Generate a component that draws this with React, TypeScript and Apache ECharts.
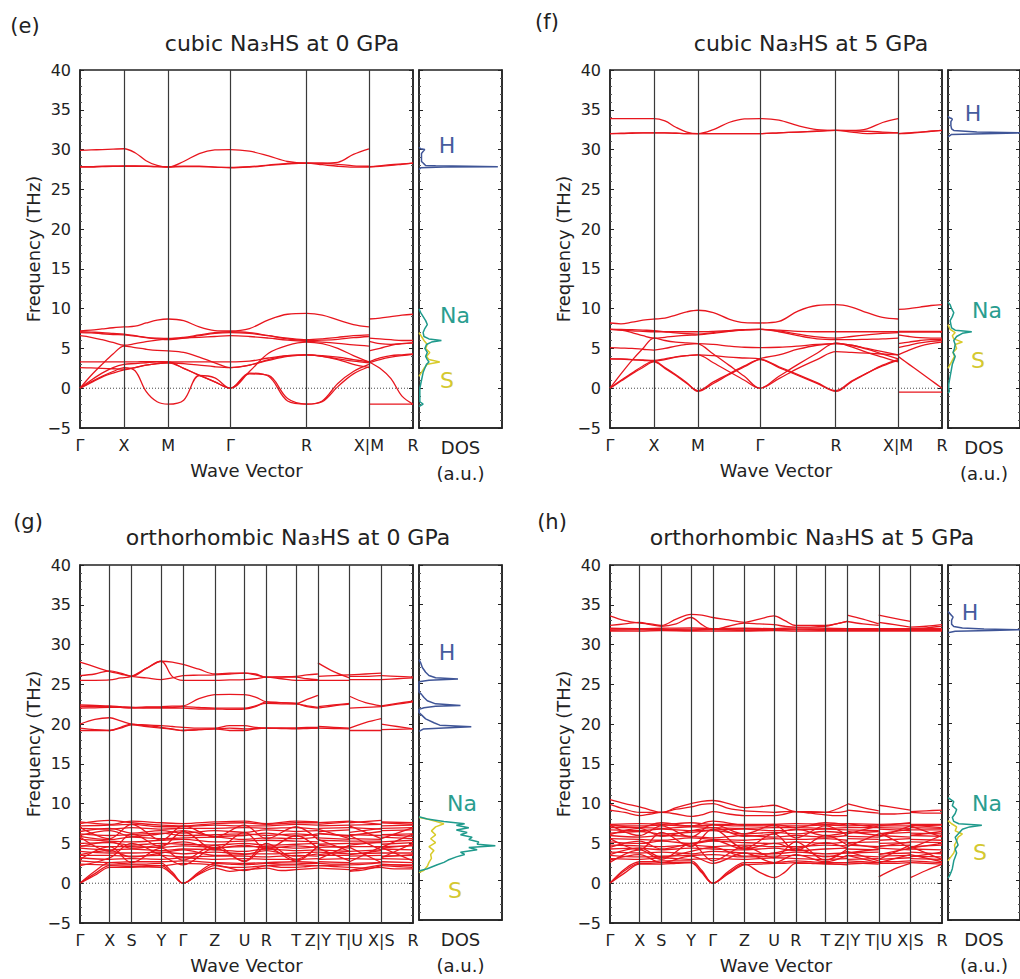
import React, { useEffect, useRef } from "react";
import * as echarts from "echarts";

// ---------------- k-paths ----------------
const cubicLabels = ["Γ", "X", "M", "Γ", "R", "X|M", "R"];
const cubicK = [0, 0.5, 1.0, 1.707, 2.573, 3.28, 3.78];
const cubicSections = [[0, 5], [5, 6]];
const orthoLabels = ["Γ", "X", "S", "Y", "Γ", "Z", "U", "R", "T", "Z|Y", "T|U", "X|S", "R"];
const orthoK = [0, 0.6, 1.04, 1.64, 2.08, 2.72, 3.32, 3.76, 4.36, 4.8, 5.44, 6.08, 6.72];
const orthoSections = [[0, 9], [9, 10], [10, 11], [11, 12]];

// ---------------- (e) cubic 0 GPa ----------------
const eA = [
  [29.9, 29.95, 30.0, 30.05, 30.1, 29.6, 28.6, 28.0, 27.8, 28.5, 29.5, 29.95, 30.0, 29.8, 29.2, 28.5, 28.3, 28.3, 28.4, 29.4, 30.1],
  [27.8, 27.8, 27.85, 27.9, 27.9, 27.9, 27.9, 27.85, 27.8, 27.85, 27.85, 27.8, 27.7, 27.8, 28.0, 28.2, 28.3, 28.1, 27.9, 27.8, 27.8],
  [27.85, 27.85, 27.9, 27.9, 27.95, 27.95, 27.9, 27.85, 27.85, 27.9, 27.9, 27.8, 27.75, 27.85, 28.05, 28.25, 28.3, 28.3, 28.15, 27.95, 27.9],
  [7.2, 7.3, 7.45, 7.6, 7.7, 7.8, 8.2, 8.55, 8.7, 8.5, 7.7, 7.25, 7.2, 7.5, 8.6, 9.3, 9.4, 9.2, 8.6, 8.0, 7.7],
  [7.0, 6.95, 6.85, 6.75, 6.7, 6.55, 6.35, 6.2, 6.1, 6.3, 6.6, 6.9, 7.0, 6.9, 6.6, 6.3, 6.1, 6.2, 6.4, 6.6, 6.7],
  [6.6, 6.4, 6.1, 5.75, 5.4, 5.6, 5.85, 6.05, 6.2, 6.3, 6.4, 6.5, 6.6, 6.5, 6.3, 6.05, 5.9, 5.8, 5.65, 5.45, 5.3],
  [0, 1.6, 3.0, 4.3, 5.3, 5.1, 4.9, 4.75, 4.7, 4.5, 3.9, 3.2, 2.6, 2.9, 3.6, 4.1, 4.2, 4.0, 3.7, 3.4, 3.2],
  [0, 1.0, 1.9, 2.6, 3.0, 3.1, 3.2, 3.3, 3.3, 2.5, 1.65, 0.8, 0, 2.1, 4.4, 5.4, 5.8, 5.6, 5.0, 4.1, 3.3],
  [3.3, 3.3, 3.3, 3.3, 3.3, 3.3, 3.35, 3.35, 3.3, 3.3, 3.3, 3.3, 3.3, 3.4, 3.8, 4.1, 4.2, 4.1, 3.9, 3.6, 3.3],
  [2.6, 2.55, 2.5, 2.45, 2.4, 2.6, 2.9, 3.1, 3.2, 3.1, 2.9, 2.7, 2.6, 2.9, 3.5, 4.0, 4.2, 4.0, 3.6, 3.0, 2.6],
  [0, 0.8, 1.5, 2.1, 2.6, 2.2, -0.4, -1.7, -2.0, -1.5, 1.6, 1.3, 0, 1.9, 1.5, -1.6, -2.0, -1.6, 0.6, 2.1, 3.0],
  [0, 0.7, 1.4, 1.9, 2.3, 2.6, 2.9, 3.1, 3.2, 2.5, 1.6, 0.8, 0, 1.8, 1.6, -1.3, -2.0, -1.7, 0.2, 1.8, 2.7],
  [7.1, 7.05, 7.0, 6.9, 6.8, 6.6, 6.4, 6.3, 6.25, 6.4, 6.7, 7.0, 7.1, 7.0, 6.6, 6.2, 6.0, 6.05, 6.15, 6.35, 6.5],
];
const eB = [
  [27.8, 27.95, 28.1, 28.2, 28.3],
  [27.85, 27.9, 28.0, 28.15, 28.3],
  [8.7, 8.8, 9.0, 9.2, 9.3],
  [6.3, 6.2, 6.1, 6.0, 6.0],
  [5.9, 5.6, 5.5, 5.6, 5.7],
  [4.7, 5.0, 5.4, 5.6, 5.7],
  [3.3, 3.8, 4.1, 4.2, 4.3],
  [3.2, 3.6, 3.9, 4.1, 4.25],
  [3.3, 2.5, 1.2, -1.0, -2.0],
  [-2.0, -2.0, -2.0, -2.0, -2.0],
];

// ---------------- (f) cubic 5 GPa ----------------
const fA = [
  [33.9, 33.9, 33.9, 33.9, 33.9, 33.6, 32.8, 32.2, 32.0, 32.5, 33.4, 33.85, 33.9, 33.7, 33.0, 32.5, 32.4, 32.4, 32.6, 33.4, 33.9],
  [32.0, 32.05, 32.1, 32.1, 32.1, 32.1, 32.05, 32.0, 32.0, 32.0, 32.0, 32.0, 32.0, 32.1, 32.2, 32.3, 32.4, 32.2, 32.0, 32.05, 32.1],
  [32.0, 32.0, 32.05, 32.1, 32.1, 32.1, 32.05, 32.0, 32.0, 32.0, 32.0, 32.0, 32.0, 32.1, 32.2, 32.3, 32.4, 32.35, 32.3, 32.2, 32.1],
  [8.2, 8.1, 8.3, 8.55, 8.7, 8.8, 9.2, 9.6, 9.8, 9.5, 8.7, 8.25, 8.2, 8.4, 9.7, 10.4, 10.5, 10.2, 9.5, 8.9, 8.7],
  [7.4, 7.3, 7.2, 7.15, 7.1, 7.1, 7.1, 7.1, 7.1, 7.15, 7.25, 7.35, 7.4, 7.3, 7.15, 7.1, 7.1, 7.1, 7.1, 7.1, 7.1],
  [7.4, 7.3, 7.0, 6.6, 6.3, 6.4, 6.55, 6.65, 6.7, 6.9, 7.15, 7.35, 7.4, 7.2, 6.8, 6.45, 6.3, 6.5, 6.7, 6.9, 7.0],
  [7.4, 7.38, 7.35, 7.3, 7.25, 7.1, 6.95, 6.85, 6.8, 7.0, 7.2, 7.35, 7.4, 7.1, 6.6, 6.2, 6.1, 6.1, 6.15, 6.2, 6.3],
  [5.1, 5.05, 5.0, 4.9, 4.8, 5.0, 5.3, 5.5, 5.6, 5.5, 5.3, 5.15, 5.1, 5.15, 5.3, 5.5, 5.6, 5.4, 5.0, 4.6, 4.2],
  [0, 1.8, 3.5, 5.0, 6.3, 6.0, 5.8, 5.7, 5.6, 4.3, 2.9, 1.5, 0, 1.5, 3.0, 4.4, 5.7, 5.2, 4.5, 3.9, 3.3],
  [0, 1.0, 1.9, 2.8, 3.4, 2.6, 1.7, 0.7, -0.4, 0.6, 1.7, 2.7, 3.7, 4.2, 4.9, 5.4, 5.6, 5.4, 4.9, 4.3, 3.7],
  [0, 0.9, 1.8, 2.6, 3.3, 2.5, 1.6, 0.6, -0.3, 0.8, 1.8, 2.8, 3.6, 2.6, 1.6, 0.6, -0.4, 0.8, 1.9, 2.8, 3.5],
  [3.7, 3.65, 3.6, 3.5, 3.4, 3.6, 3.9, 4.1, 4.2, 3.2, 2.1, 1.0, 0, 1.2, 2.5, 3.6, 4.6, 4.5, 4.4, 4.3, 4.2],
  [3.7, 3.7, 3.6, 3.55, 3.5, 3.7, 3.95, 4.1, 4.2, 4.1, 3.9, 3.8, 3.7, 2.7, 1.7, 0.7, -0.3, 0.9, 1.9, 2.9, 3.6],
];
const fB = [
  [32.0, 32.1, 32.2, 32.3, 32.4],
  [32.0, 32.05, 32.15, 32.3, 32.4],
  [9.9, 10.0, 10.2, 10.4, 10.5],
  [7.15, 7.15, 7.15, 7.15, 7.15],
  [7.05, 7.05, 7.05, 7.05, 7.05],
  [6.7, 6.5, 6.35, 6.3, 6.3],
  [5.6, 5.8, 6.0, 6.1, 6.1],
  [5.1, 5.4, 5.7, 5.9, 6.0],
  [4.2, 4.8, 5.3, 5.6, 5.8],
  [4.0, 3.0, 2.0, 1.0, 0],
  [-0.5, -0.5, -0.5, -0.5, -0.5],
];

// ---------------- (g) orthorhombic 0 GPa ----------------
const gA_hi = [
  [27.8, 27.2, 26.6, 26.3, 26.0, 27.0, 27.9, 27.8, 27.5, 26.9, 26.3, 26.4, 26.4, 26.3, 25.9, 25.95, 26.0, 26.2, 26.3],
  [26.1, 26.3, 26.7, 26.4, 26.0, 25.8, 25.6, 25.8, 26.1, 26.15, 26.2, 26.3, 26.4, 26.2, 25.9, 25.9, 25.9, 25.7, 25.6],
  [25.5, 25.5, 25.55, 25.8, 26.0, 27.0, 27.9, 26.0, 25.5, 25.5, 25.5, 25.55, 25.6, 25.7, 25.9, 25.7, 25.5, 25.5, 25.5],
  [22.4, 22.35, 22.3, 22.2, 22.1, 22.15, 22.2, 22.25, 22.3, 23.2, 23.7, 23.75, 23.7, 23.4, 22.8, 22.7, 22.6, 23.1, 23.6],
  [22.0, 22.05, 22.1, 22.1, 22.1, 22.0, 22.0, 22.0, 22.0, 21.9, 21.9, 21.85, 21.9, 22.2, 22.8, 22.7, 22.6, 22.2, 22.0],
  [22.2, 22.2, 22.2, 22.1, 22.0, 22.1, 22.1, 22.1, 22.2, 22.1, 22.0, 22.0, 22.0, 22.3, 22.6, 22.55, 22.5, 22.3, 22.1],
  [20.0, 20.6, 20.8, 20.4, 20.0, 19.9, 19.8, 19.7, 19.6, 19.5, 19.5, 19.8, 19.8, 19.6, 19.5, 19.5, 19.5, 19.6, 19.6],
  [19.5, 19.3, 19.2, 19.6, 20.0, 19.8, 19.6, 19.4, 19.2, 19.3, 19.4, 19.2, 19.2, 19.4, 19.5, 19.5, 19.5, 19.5, 19.5],
  [19.2, 19.2, 19.2, 19.5, 19.9, 19.7, 19.5, 19.35, 19.2, 19.3, 19.4, 19.5, 19.4, 19.45, 19.5, 19.45, 19.4, 19.45, 19.5],
  [0, 1.2, 2.2, 2.15, 2.1, 2.05, 2.0, 1.1, 0, 1.1, 1.9, 1.5, 1.7, 1.8, 1.9, 1.6, 1.7, 1.8, 1.9],
  [0, 1.0, 2.0, 2.0, 2.0, 2.1, 2.2, 1.2, 0, 1.2, 2.2, 2.0, 2.0, 2.1, 2.2, 2.0, 2.0, 2.1, 2.2],
  [0, 1.5, 2.6, 2.5, 2.4, 2.4, 2.5, 1.4, 0, 1.4, 2.5, 2.4, 2.3, 2.4, 2.5, 2.4, 2.4, 2.5, 2.5],
];
const gDenseA = [
  [7.5, 7.9, 7.6, 7.3, 7.2, 7.5, 7.6, 7.4, 7.6, 7.6],
  [7.2, 7.3, 7.4, 7.1, 7.1, 7.3, 7.2, 7.2, 7.4, 7.3],
  [6.9, 6.8, 7.0, 6.8, 6.9, 6.9, 7.0, 6.9, 7.0, 6.8],
  [6.5, 6.9, 6.3, 6.6, 6.3, 6.6, 6.4, 6.7, 6.5, 6.6],
  [6.2, 6.0, 6.1, 6.3, 6.0, 6.1, 6.2, 6.0, 6.2, 6.0],
  [5.9, 5.5, 5.8, 5.6, 5.7, 5.8, 5.5, 5.7, 5.6, 5.8],
  [5.5, 5.3, 5.2, 5.4, 5.5, 5.2, 5.3, 5.4, 5.3, 5.2],
  [5.0, 5.1, 4.8, 5.0, 4.9, 4.8, 5.0, 4.8, 4.9, 5.0],
  [4.7, 4.6, 4.6, 4.5, 4.7, 4.5, 4.6, 4.6, 4.4, 4.6],
  [4.4, 4.2, 4.3, 4.1, 4.3, 4.2, 4.0, 4.3, 4.1, 4.2],
  [4.0, 3.8, 3.8, 3.9, 3.7, 3.9, 3.7, 3.7, 3.8, 3.9],
  [3.5, 3.5, 3.4, 3.5, 3.3, 3.4, 3.4, 3.3, 3.5, 3.4],
  [3.2, 3.0, 3.1, 3.0, 3.2, 3.0, 3.1, 3.0, 3.0, 3.1],
  [2.8, 2.6, 2.7, 2.7, 2.8, 2.6, 2.5, 2.6, 2.7, 2.6],
  [2.4, 2.3, 2.3, 2.2, 2.5, 2.3, 1.6, 2.2, 2.3, 2.2],
  [7.7, 7.4, 7.8, 7.6, 7.5, 7.7, 7.8, 7.5, 7.8, 7.7],
  [6.0, 6.6, 5.9, 6.2, 6.6, 5.9, 6.0, 6.3, 5.9, 6.2],
  [4.6, 5.2, 4.4, 4.8, 5.2, 4.4, 4.8, 4.4, 4.7, 4.5],
  [3.6, 4.1, 3.3, 3.8, 4.2, 3.5, 3.6, 4.1, 3.4, 3.7],
  [2.2, 3.2, 5.0, 3.5, 2.3, 4.4, 2.8, 5.0, 3.0, 4.6],
  [5.8, 4.0, 6.2, 4.6, 6.5, 4.2, 6.4, 4.3, 6.0, 4.4],
  [7.0, 5.6, 7.4, 5.4, 7.2, 5.8, 7.3, 5.6, 7.1, 5.5],
  [3.0, 4.6, 2.6, 4.4, 2.9, 4.8, 2.7, 4.5, 2.8, 4.7],
];
const gYT = [
  [27.7, 26.6, 25.8], [26.0, 26.1, 26.2], [25.5, 25.5, 25.5],
  [22.0, 22.3, 22.5], [22.2, 22.4, 22.6],
  [19.7, 19.6, 19.5], [19.5, 19.45, 19.4],
  [1.9, 1.8, 1.7], [2.2, 2.1, 2.0], [2.5, 2.4, 2.4],
];
const gUX = [
  [26.2, 26.3, 26.4], [25.6, 25.6, 25.6], [26.0, 26.0, 26.1],
  [23.5, 22.7, 22.3], [22.0, 22.1, 22.2],
  [19.5, 20.2, 20.7], [19.2, 19.2, 19.2],
  [1.5, 1.7, 2.2], [2.0, 1.9, 2.0], [2.3, 2.4, 2.6],
];
const gSR = [
  [26.1, 26.0, 25.9], [25.6, 25.7, 25.8],
  [22.3, 22.6, 22.9], [22.2, 22.5, 22.8],
  [20.0, 19.7, 19.4], [19.3, 19.35, 19.4],
  [2.0, 1.8, 1.8], [2.2, 2.1, 2.0], [2.4, 2.3, 2.2],
];
const gDenseYT = [[7.4, 7.7], [7.2, 7.3], [6.9, 7.0], [6.5, 6.7], [6.2, 6.0], [5.7, 5.5], [5.4, 5.3], [4.9, 5.0], [4.5, 4.6], [4.2, 4.0], [3.9, 3.7], [3.5, 3.5], [3.0, 3.1], [2.7, 2.6], [2.2, 2.3], [7.6, 7.8], [6.3, 5.9], [4.8, 4.4], [3.6, 4.0], [3.0, 4.8], [5.5, 4.0], [6.8, 5.6], [4.4, 2.8]];
const gDenseUX = [[7.6, 7.9], [7.3, 7.4], [7.0, 6.8], [6.4, 6.9], [6.1, 6.0], [5.6, 5.5], [5.3, 5.3], [5.0, 5.1], [4.6, 4.6], [4.0, 4.2], [3.7, 3.8], [3.4, 3.5], [3.1, 3.0], [2.5, 2.6], [1.6, 2.3], [7.8, 7.4], [6.0, 6.5], [4.8, 5.2], [3.6, 4.1], [4.5, 2.6], [6.0, 4.2], [7.2, 5.6], [2.7, 4.6]];
const gDenseSR = [[7.6, 7.4], [7.2, 7.3], [6.9, 7.0], [6.6, 6.7], [6.1, 6.2], [5.8, 5.6], [5.2, 5.4], [4.9, 5.1], [4.6, 4.7], [4.3, 4.2], [3.8, 3.8], [3.4, 3.5], [3.1, 3.0], [2.7, 2.6], [2.3, 2.3], [7.7, 7.6], [6.1, 5.9], [4.4, 4.8], [3.3, 3.6], [3.2, 5.0], [4.5, 6.2], [5.6, 7.0], [4.5, 2.8]];

// ---------------- (h) orthorhombic 5 GPa ----------------
const hA_hi = [
  [33.6, 33.0, 32.7, 32.6, 32.4, 33.2, 33.8, 33.7, 33.4, 33.1, 32.8, 33.2, 33.6, 33.0, 32.4, 32.4, 32.4, 32.6, 32.9],
  [32.4, 32.6, 32.8, 32.5, 32.3, 32.6, 33.4, 32.5, 31.9, 32.3, 32.7, 32.6, 32.5, 32.3, 32.2, 32.2, 32.3, 32.6, 32.9],
  [10.5, 10.0, 9.6, 9.2, 8.9, 9.5, 10.0, 10.3, 10.4, 10.0, 9.5, 9.6, 9.8, 9.4, 9.0, 9.0, 8.9, 9.3, 9.9],
  [9.9, 9.3, 8.9, 8.9, 8.9, 9.3, 9.6, 9.9, 10.0, 9.4, 9.1, 9.0, 8.9, 9.0, 9.0, 8.9, 8.9, 8.9, 9.1],
  [9.2, 8.9, 8.5, 8.7, 8.9, 8.7, 8.4, 8.6, 9.0, 8.7, 8.5, 8.5, 8.5, 8.7, 9.0, 8.8, 8.6, 8.5, 8.5],
  [0, 1.6, 2.5, 2.5, 2.6, 2.6, 2.6, 1.4, 0, 1.3, 2.4, 1.4, 0.7, 1.4, 2.5, 2.5, 2.5, 2.4, 2.3],
  [0, 1.3, 2.4, 2.4, 2.4, 2.5, 2.6, 1.3, 0, 1.2, 2.3, 2.4, 2.5, 2.5, 2.6, 2.5, 2.4, 2.4, 2.4],
  [0, 1.8, 2.7, 2.7, 2.8, 2.8, 2.8, 1.6, 0, 1.5, 2.6, 2.6, 2.6, 2.7, 2.8, 2.7, 2.6, 2.6, 2.6],
];
const hDenseA = [
  [31.95, 31.95, 31.9, 31.95, 31.9, 31.95, 31.9, 31.95, 31.9, 31.95],
  [31.8, 31.85, 31.8, 31.8, 31.85, 31.8, 31.8, 31.85, 31.8, 31.8],
  [31.7, 31.7, 31.75, 31.7, 31.7, 31.7, 31.75, 31.7, 31.7, 31.7],
  [32.05, 32.0, 32.05, 32.1, 32.0, 32.05, 32.0, 32.1, 32.05, 32.0],
  [7.4, 7.5, 7.4, 7.6, 7.4, 7.4, 7.4, 7.5, 7.4, 7.5],
  [7.2, 7.2, 7.3, 7.2, 7.3, 7.2, 7.2, 7.2, 7.3, 7.2],
  [7.0, 7.0, 6.9, 7.1, 7.0, 6.9, 7.0, 7.0, 6.9, 7.0],
  [6.7, 6.6, 6.8, 6.6, 6.7, 6.8, 6.6, 6.7, 6.8, 6.7],
  [6.3, 6.5, 6.2, 6.4, 6.6, 6.2, 6.4, 6.2, 6.5, 6.3],
  [6.0, 5.8, 6.0, 5.9, 5.7, 6.0, 5.8, 6.0, 5.8, 6.0],
  [5.6, 5.5, 5.4, 5.7, 5.5, 5.4, 5.6, 5.5, 5.6, 5.4],
  [5.2, 5.0, 5.3, 5.0, 5.3, 5.1, 5.0, 5.2, 5.0, 5.2],
  [4.8, 4.7, 4.6, 4.8, 4.6, 4.8, 4.6, 4.6, 4.8, 4.7],
  [4.3, 4.4, 4.2, 4.4, 4.3, 4.2, 4.4, 4.1, 4.3, 4.4],
  [3.9, 3.8, 3.9, 3.7, 4.0, 3.8, 3.7, 3.9, 3.7, 3.8],
  [3.5, 3.3, 3.4, 3.5, 3.6, 3.3, 3.4, 3.5, 3.4, 3.3],
  [3.1, 3.0, 3.2, 3.0, 3.1, 3.0, 3.2, 3.1, 3.0, 3.1],
  [6.1, 6.9, 5.9, 6.6, 7.0, 5.9, 6.2, 6.8, 6.0, 6.4],
  [4.5, 5.3, 4.3, 5.0, 5.4, 4.3, 5.0, 4.4, 5.1, 4.4],
  [3.6, 4.4, 3.3, 4.0, 4.5, 3.4, 3.8, 4.3, 3.3, 4.0],
  [7.4, 7.0, 7.6, 7.2, 7.8, 7.3, 7.4, 7.0, 7.6, 7.3],
  [2.6, 4.2, 3.0, 5.0, 2.8, 4.6, 3.2, 5.2, 2.9, 4.3],
  [5.6, 4.2, 6.4, 4.6, 6.8, 4.4, 6.2, 4.1, 6.0, 4.8],
  [7.3, 6.0, 7.2, 5.8, 7.4, 6.2, 7.3, 5.7, 7.2, 6.0],
  [2.9, 3.6, 2.6, 3.4, 2.5, 3.8, 2.6, 3.6, 2.7, 3.5],
];
const hYT = [[33.7, 33.2, 32.6], [32.9, 32.6, 32.4], [10.0, 9.5, 9.1], [9.2, 9.0, 8.8], [2.4, 2.5, 2.6], [2.6, 2.5, 2.4], [2.8, 2.7, 2.6]];
const hUX = [[33.7, 33.3, 32.9], [32.8, 32.5, 32.2], [9.8, 9.5, 9.2], [8.7, 8.7, 8.8], [0.8, 1.8, 2.5], [2.5, 2.5, 2.6], [2.7, 2.7, 2.8]];
const hSR = [[32.2, 32.3, 32.5], [32.0, 32.1, 32.3], [9.0, 9.1, 9.2], [8.9, 8.8, 8.8], [0.7, 1.6, 2.4], [2.6, 2.5, 2.4], [2.8, 2.7, 2.6]];
const hDenseYT = [[31.9, 31.9], [31.8, 31.8], [31.7, 31.7], [32.0, 32.0], [7.5, 7.4], [7.2, 7.3], [7.0, 7.0], [6.7, 6.6], [6.3, 6.5], [5.9, 5.8], [5.6, 5.5], [5.1, 5.2], [4.8, 4.6], [4.3, 4.2], [3.8, 3.9], [3.5, 3.3], [3.0, 3.1], [6.5, 6.0], [5.0, 4.4], [3.8, 4.3], [7.5, 7.0], [4.0, 2.8], [4.6, 6.2], [6.2, 7.2], [3.5, 2.6]];
const hDenseUX = [[31.9, 31.9], [31.8, 31.8], [31.7, 31.7], [32.0, 32.0], [7.4, 7.5], [7.2, 7.2], [7.0, 6.9], [6.8, 6.6], [6.2, 6.4], [6.0, 5.8], [5.4, 5.6], [5.0, 5.1], [4.7, 4.8], [4.4, 4.2], [3.7, 3.8], [3.4, 3.5], [3.0, 3.2], [6.2, 6.8], [4.6, 5.2], [3.6, 4.4], [7.2, 7.6], [3.0, 4.8], [6.4, 4.4], [5.8, 7.2], [2.6, 3.6]];
const hDenseSR = [[31.9, 31.9], [31.8, 31.8], [31.7, 31.7], [32.0, 32.0], [7.4, 7.4], [7.2, 7.3], [7.0, 6.9], [6.7, 6.7], [6.3, 6.2], [6.0, 5.9], [5.5, 5.4], [5.2, 5.1], [4.6, 4.8], [4.3, 4.2], [3.9, 3.7], [3.4, 3.3], [3.1, 3.0], [6.0, 6.5], [4.4, 5.0], [3.3, 3.9], [7.3, 7.0], [4.6, 3.0], [4.4, 6.0], [7.2, 5.8], [3.6, 2.7]];

// ---------------- projected DOS (freq in THz, value in a.u.) ----------------
const eHf = [27.5, 27.7, 27.8, 27.85, 27.9, 27.95, 28.0, 28.2, 28.3, 28.5, 29.0, 29.5, 29.9, 30.0, 30.1, 30.3];
const eHv = [0, 0.02, 0.3, 0.95, 0.6, 0.2, 0.08, 0.06, 0.05, 0.03, 0.03, 0.03, 0.06, 0.07, 0.02, 0];
const eNaf = [-2.3, -2.0, -1.7, -1.0, 0, 0.5, 1.0, 1.5, 2.0, 2.5, 3.0, 3.3, 3.6, 4.0, 4.5, 5.0, 5.5, 5.8, 6.0, 6.2, 6.5, 7.0, 7.5, 8.0, 8.5, 9.0, 9.5, 10.0];
const eNav = [0, 0.05, 0.01, 0.01, 0.01, 0.02, 0.03, 0.04, 0.05, 0.07, 0.09, 0.12, 0.1, 0.08, 0.1, 0.07, 0.09, 0.15, 0.27, 0.12, 0.06, 0.05, 0.07, 0.1, 0.08, 0.05, 0.02, 0];
const eSf = [1.5, 2.0, 2.5, 3.0, 3.3, 3.6, 4.0, 4.5, 5.0, 5.5, 6.0, 6.5, 7.0];
const eSv = [0, 0.03, 0.06, 0.1, 0.25, 0.12, 0.09, 0.13, 0.08, 0.1, 0.06, 0.03, 0];

const fHf = [31.6, 31.9, 32.0, 32.1, 32.2, 32.4, 32.6, 33.0, 33.5, 33.8, 33.9, 34.0, 34.2];
const fHv = [0, 0.05, 0.5, 1.0, 0.4, 0.08, 0.05, 0.04, 0.04, 0.06, 0.05, 0.02, 0];
const fNaf = [-0.6, -0.4, 0, 0.5, 1.0, 1.5, 2.0, 2.5, 3.0, 3.5, 4.0, 4.5, 5.0, 5.5, 6.0, 6.5, 6.9, 7.1, 7.3, 7.6, 8.0, 8.5, 9.0, 9.5, 10.0, 10.5, 10.8];
const fNav = [0, 0.02, 0.01, 0.01, 0.02, 0.03, 0.04, 0.05, 0.06, 0.08, 0.1, 0.07, 0.09, 0.1, 0.08, 0.12, 0.2, 0.33, 0.1, 0.05, 0.04, 0.03, 0.06, 0.08, 0.05, 0.03, 0];
const fSf = [2.5, 3.0, 3.5, 4.0, 4.5, 5.0, 5.5, 5.8, 6.2, 6.6, 7.0, 7.4, 8.0];
const fSv = [0, 0.03, 0.06, 0.09, 0.07, 0.12, 0.1, 0.2, 0.08, 0.06, 0.1, 0.03, 0];

const gHf = [18.9, 19.2, 19.35, 19.5, 19.7, 20.0, 20.5, 21.0, 21.3, 21.7, 21.9, 22.1, 22.2, 22.4, 22.8, 23.2, 23.6, 23.9, 25.2, 25.4, 25.55, 25.7, 26.0, 26.4, 27.0, 27.6, 28.0];
const gHv = [0, 0.05, 0.3, 0.63, 0.25, 0.18, 0.08, 0.03, 0, 0, 0.06, 0.2, 0.5, 0.2, 0.1, 0.06, 0.03, 0, 0, 0.12, 0.47, 0.2, 0.12, 0.08, 0.04, 0.02, 0];
const gNaf = [1.2, 1.5, 2.0, 2.3, 2.6, 3.0, 3.3, 3.6, 3.9, 4.2, 4.4, 4.6, 4.9, 5.2, 5.5, 5.8, 6.1, 6.4, 6.7, 7.0, 7.2, 7.5, 7.8, 8.1];
const gNav = [0, 0.1, 0.22, 0.3, 0.35, 0.45, 0.55, 0.5, 0.7, 0.6, 0.92, 0.7, 0.72, 0.6, 0.64, 0.5, 0.58, 0.45, 0.6, 0.45, 0.55, 0.3, 0.1, 0];
const gSf = [1.0, 1.3, 1.8, 2.3, 2.8, 3.3, 3.8, 4.3, 4.8, 5.3, 5.8, 6.3, 6.8, 7.2, 7.5, 7.8, 8.0];
const gSv = [0, 0.06, 0.1, 0.12, 0.15, 0.14, 0.18, 0.12, 0.2, 0.14, 0.2, 0.15, 0.2, 0.3, 0.2, 0.1, 0];

const hHf = [31.4, 31.6, 31.7, 31.8, 31.9, 32.0, 32.2, 32.5, 33.0, 33.4, 33.6, 33.9, 34.1];
const hHv = [0, 0.1, 0.6, 1.0, 0.5, 0.2, 0.08, 0.05, 0.05, 0.07, 0.05, 0.02, 0];
const hNaf = [0.3, 0.6, 1.0, 1.5, 2.0, 2.5, 3.0, 3.5, 4.0, 4.5, 5.0, 5.5, 6.0, 6.5, 6.8, 7.0, 7.2, 7.5, 8.0, 8.5, 9.0, 9.5, 10.0, 10.5];
const hNav = [0, 0.02, 0.04, 0.06, 0.07, 0.08, 0.1, 0.12, 0.1, 0.14, 0.12, 0.1, 0.15, 0.2, 0.3, 0.47, 0.15, 0.08, 0.06, 0.1, 0.12, 0.06, 0.08, 0];
const hSf = [2.5, 3.0, 3.5, 4.0, 4.5, 5.0, 5.5, 5.9, 6.3, 6.8, 7.2, 7.6];
const hSv = [0, 0.04, 0.08, 0.1, 0.09, 0.12, 0.14, 0.2, 0.1, 0.12, 0.05, 0];

const titles = ["cubic Na₃HS at 0 GPa", "cubic Na₃HS at 5 GPa", "orthorhombic Na₃HS at 0 GPa", "orthorhombic Na₃HS at 5 GPa"];
const letters = ["(e)", "(f)", "(g)", "(h)"];

// ---------------- styling / layout ----------------
const FONT = "DejaVu Sans";
const INK = "#222";
const RED = "#e8161e";
const C_H = "#3f5597";
const C_NA = "#1f9a8c";
const C_S = "#d8cb2b";
const GRID_H = 358;
const layout = [
  { left: 80, top: 70, width: 333, title: [282, 43], letter: [25, 26], H: [447, 145], Na: [455, 315], S: [447, 380] },
  { left: 610, top: 70, width: 332, title: [811, 43], letter: [547, 22], H: [973, 113], Na: [987, 310], S: [978, 360] },
  { left: 80, top: 565, width: 333, title: [288, 537], letter: [28, 522], H: [447, 652], Na: [462, 803], S: [455, 890] },
  { left: 610, top: 565, width: 332, title: [812, 537], letter: [552, 522], H: [970, 612], Na: [987, 803], S: [980, 852] },
];

const panels = [
  { K: cubicK, labels: cubicLabels, sections: cubicSections, bands: [eA, eB], dos: [[eSf, eSv], [eNaf, eNav], [eHf, eHv]] },
  { K: cubicK, labels: cubicLabels, sections: cubicSections, bands: [fA, fB], dos: [[fSf, fSv], [fNaf, fNav], [fHf, fHv]] },
  {
    K: orthoK, labels: orthoLabels, sections: orthoSections,
    bands: [[...gA_hi, ...gDenseA], [...gYT, ...gDenseYT], [...gUX, ...gDenseUX], [...gSR, ...gDenseSR]],
    dos: [[gSf, gSv], [gNaf, gNav], [gHf, gHv]],
  },
  {
    K: orthoK, labels: orthoLabels, sections: orthoSections,
    bands: [[...hA_hi, ...hDenseA], [...hYT, ...hDenseYT], [...hUX, ...hDenseUX], [...hSR, ...hDenseSR]],
    dos: [[hSf, hSv], [hNaf, hNav], [hHf, hHv]],
  },
];

const minusFmt = (v: number) => (v < 0 ? "\u2212" + Math.abs(v) : String(v));

function yAxisPair(gridIndex: number, withLabels: boolean) {
  const base = {
    type: "value", gridIndex, min: -5, max: 40, interval: 5,
    axisLine: { show: true, onZero: false, lineStyle: { color: INK, width: 1.5 } },
    axisTick: { show: true, inside: true, length: 4, lineStyle: { color: INK, width: 1 } },
    minorTick: { show: true, splitNumber: 5, length: 2, lineStyle: { color: "#555", width: 1 } },
    splitLine: { show: false },
  };
  const left: any = {
    ...base, position: "left",
    axisLabel: withLabels
      ? { show: true, formatter: minusFmt, fontSize: 16, color: INK, margin: 9, fontFamily: FONT }
      : { show: false },
  };
  if (withLabels) {
    Object.assign(left, {
      name: "Frequency (THz)", nameLocation: "middle", nameRotate: 90, nameGap: 38,
      nameTextStyle: { fontSize: 18, color: INK, fontFamily: FONT },
    });
  }
  const right: any = { ...base, position: "right", axisLabel: { show: false } };
  return [left, right];
}

function buildOption() {
  const grid: any[] = [];
  const xAxis: any[] = [];
  const yAxis: any[] = [];
  const series: any[] = [];
  const graphic: any[] = [];

  panels.forEach((p, pi) => {
    const L = layout[pi];
    const gBand = pi * 2;
    const gDos = pi * 2 + 1;
    const kMax = p.K[p.K.length - 1];
    grid.push({ left: L.left, top: L.top, width: L.width, height: GRID_H, show: true, borderColor: INK, borderWidth: 1.5 });
    grid.push({ left: L.left + L.width + 6, top: L.top, width: 83, height: GRID_H, show: true, borderColor: INK, borderWidth: 1.5 });

    xAxis.push({
      type: "value", gridIndex: gBand, min: 0, max: kMax, position: "bottom",
      axisLine: { show: true, onZero: false, lineStyle: { color: INK, width: 1.5 } },
      axisTick: { show: false }, splitLine: { show: false },
      axisLabel: {
        show: true, customValues: p.K, fontSize: 16, color: INK, margin: 9, fontFamily: FONT,
        formatter: (v: number) => {
          const i = p.K.findIndex((k) => Math.abs(k - v) < 1e-6);
          return i >= 0 ? p.labels[i] : "";
        },
      },
      name: "Wave Vector", nameLocation: "middle", nameGap: 33,
      nameTextStyle: { fontSize: 18, color: INK, fontFamily: FONT },
    });
    xAxis.push({
      type: "value", gridIndex: gDos, min: 0, max: 1, position: "bottom",
      axisLine: { show: true, onZero: false, lineStyle: { color: INK, width: 1.5 } },
      axisTick: { show: false }, splitLine: { show: false }, axisLabel: { show: false },
      name: "DOS\n(a.u.)", nameLocation: "middle", nameGap: 6,
      nameTextStyle: { fontSize: 18, color: INK, fontFamily: FONT, lineHeight: 26 },
    });
    yAxis.push(...yAxisPair(gBand, true));
    yAxis.push(...yAxisPair(gDos, false));
    const yBand = gBand * 2;
    const yDos = gDos * 2;

    // bands
    p.sections.forEach(([a, b], s) => {
      const nSeg = b - a;
      p.bands[s].forEach((vals: number[]) => {
        const per = (vals.length - 1) / nSeg;
        const data = vals.map((v, i) => {
          const seg = Math.min(Math.floor(i / per), nSeg - 1);
          const t = (i - seg * per) / per;
          return [p.K[a + seg] + t * (p.K[a + seg + 1] - p.K[a + seg]), v];
        });
        series.push({
          type: "line", xAxisIndex: gBand, yAxisIndex: yBand, data, smooth: 0.35,
          symbol: "none", silent: true, z: 2,
          lineStyle: { color: RED, width: 1.3 },
        });
      });
    });

    // zero line + high-symmetry verticals
    series.push({
      type: "line", xAxisIndex: gBand, yAxisIndex: yBand, data: [[0, 0], [kMax, 0]],
      symbol: "none", silent: true, z: 4,
      lineStyle: { color: "#444", width: 1, type: [1, 2] },
      markLine: {
        symbol: "none", silent: true, label: { show: false }, animation: false,
        lineStyle: { color: "#3a3a3a", width: 1.2, type: "solid" },
        data: p.K.slice(1, -1).map((k) => ({ xAxis: k })),
      },
    });

    // DOS
    const dosColors = [C_S, C_NA, C_H];
    p.dos.forEach(([fr, vv], di) => {
      series.push({
        type: "line", xAxisIndex: gDos, yAxisIndex: yDos,
        data: fr.map((f: number, i: number) => [vv[i], f]),
        symbol: "none", silent: true, z: 3 + di,
        lineStyle: { color: dosColors[di], width: 1.5 },
      });
    });

    // texts
    graphic.push({
      type: "text", x: L.title[0], y: L.title[1], silent: true,
      style: { text: titles[pi], fontSize: 22, fontFamily: FONT, fill: INK, align: "center", verticalAlign: "middle" },
    });
    graphic.push({
      type: "text", x: L.letter[0], y: L.letter[1], silent: true,
      style: { text: letters[pi], fontSize: 21, fontFamily: FONT, fill: INK, align: "center", verticalAlign: "middle" },
    });
    const lab = (txt: string, pos: number[], color: string) => ({
      type: "text", x: pos[0], y: pos[1], silent: true,
      style: { text: txt, fontSize: 22, fontFamily: FONT, fill: color, align: "center", verticalAlign: "middle" },
    });
    graphic.push(lab("H", L.H, "#465c9e"));
    graphic.push(lab("Na", L.Na, "#2a9d8f"));
    graphic.push(lab("S", L.S, "#d4c830"));
  });

  return {
    animation: false,
    backgroundColor: "#ffffff",
    textStyle: { fontFamily: FONT },
    grid, xAxis, yAxis, series, graphic,
  };
}

export default function App() {
  const ref = useRef<HTMLDivElement>(null);
  useEffect(() => {
    if (!ref.current) return;
    const chart = echarts.init(ref.current, null, { renderer: "svg" });
    chart.setOption(buildOption() as any);
    return () => chart.dispose();
  }, []);
  return (
    <div
      ref={ref}
      style={{ position: "absolute", left: 0, top: 0, width: 1020, height: 979, background: "#fff" }}
    />
  );
}
